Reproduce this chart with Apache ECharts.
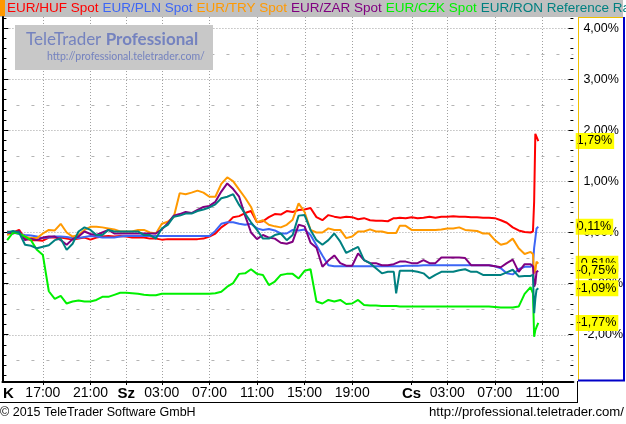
<!DOCTYPE html>
<html><head><meta charset="utf-8">
<script src="https://cdn.jsdelivr.net/npm/echarts@6/dist/echarts.min.js"></script>
<style>html,body{margin:0;padding:0;background:#fff}#c{width:626px;height:424px}</style>
</head><body><div id="c"></div>
<script>
// ---- data ----
const seriesNames = ['EUR/HUF Spot','EUR/PLN Spot','EUR/TRY Spot','EUR/ZAR Spot','EUR/CZK Spot','EUR/RON Reference Rate'];
// hours since Tuesday 00:00
const hours = [14,14.5,15,15.5,16,16.5,17,17.5,18,18.5,
 19,19.5,20,20.5,21,21.5,22,22.5,23,23.5,
 24,24.5,25,25.5,26,26.5,27,27.5,28,28.5,
 29,29.5,30,30.5,31,31.5,32,32.5,33,33.5,
 34,34.5,35,35.5,36,36.5,37,37.5,38,38.5,
 39,39.5,40,40.5,41,41.5,42,42.5,43,43.5,
 44,44.5,45,45.5,46,46.5,46.7,47,47.5,48,
 48.5,49,49.5,50,50.5,51,51.5,52,52.5,53,
 53.5,54,54.5,55,55.5,56,56.5,57,57.5,58,
 58.2,58.3,58.4,58.5,58.65];
const eurHuf = [0.02,0.0,0.05,-0.12,-0.15,-0.15,-0.16,-0.1,-0.1,-0.1,
 -0.12,-0.14,-0.12,-0.1,-0.14,-0.1,-0.08,-0.07,-0.08,-0.07,
 -0.08,-0.1,-0.1,-0.1,-0.12,-0.12,-0.14,-0.13,-0.13,-0.13,
 -0.13,-0.13,-0.13,-0.12,-0.08,-0.02,0.1,0.18,0.3,0.32,
 0.38,0.42,0.2,0.22,0.3,0.36,0.35,0.42,0.4,0.44,
 0.45,0.48,0.3,0.24,0.34,0.31,0.29,0.31,0.3,0.26,
 0.28,0.24,0.23,0.23,0.22,0.28,0.28,0.29,0.28,0.3,
 0.28,0.29,0.31,0.29,0.31,0.31,0.32,0.31,0.31,0.3,
 0.3,0.29,0.29,0.28,0.24,0.19,0.1,0.04,0.01,0.0,
 0.02,0.6,1.93,1.94,1.79];
const eurPln = [0.0,0.0,-0.03,-0.05,-0.06,-0.08,-0.11,-0.1,-0.08,-0.08,
 -0.09,-0.11,-0.11,-0.09,-0.07,-0.08,-0.1,-0.1,-0.1,-0.08,
 -0.07,-0.07,-0.07,-0.07,-0.07,-0.07,-0.07,-0.07,-0.07,-0.07,
 -0.07,-0.07,-0.07,-0.07,-0.07,0.03,0.17,0.2,0.2,0.17,
 0.15,0.17,0.08,0.05,0.07,0.04,-0.02,-0.02,0.05,0.04,
 0.06,-0.05,-0.25,-0.45,-0.64,-0.66,-0.66,-0.66,-0.66,-0.66,
 -0.66,-0.66,-0.66,-0.66,-0.66,-0.66,-0.66,-0.66,-0.65,-0.65,
 -0.65,-0.64,-0.64,-0.64,-0.64,-0.64,-0.64,-0.64,-0.64,-0.64,
 -0.64,-0.64,-0.64,-0.66,-0.7,-0.8,-0.82,-0.72,-0.67,-0.67,
 -0.62,-0.3,-0.12,0.08,0.11];
const eurTry = [-0.05,0.01,0.0,-0.08,-0.11,-0.11,-0.02,0.05,0.04,0.17,
 0.0,-0.08,-0.05,0.05,0.11,0.11,0.1,0.08,0.06,0.02,
 0.02,0.02,0.05,0.05,0.0,-0.02,0.17,0.21,0.3,0.77,
 0.75,0.78,0.82,0.78,0.7,0.7,0.95,1.08,1.0,0.84,
 0.68,0.5,0.2,0.24,0.15,0.12,0.1,0.15,0.25,0.57,
 0.4,0.05,0.0,0.0,0.08,0.05,0.05,-0.11,-0.08,0.02,
 0.02,0.06,0.02,0.02,-0.01,-0.01,-0.01,0.13,0.13,0.05,
 0.05,0.05,0.05,0.05,0.06,0.08,0.08,0.1,0.05,0.04,
 0.03,-0.02,-0.02,-0.15,-0.24,-0.21,-0.12,-0.31,-0.42,-0.38,
 -0.42,-0.8,-0.75,-0.57,-0.61];
const eurZar = [0.0,-0.02,0.03,-0.15,-0.12,-0.15,-0.1,-0.08,-0.08,-0.15,
 -0.24,-0.13,-0.08,0.02,-0.03,-0.05,0.0,0.05,-0.02,-0.02,
 -0.02,-0.02,-0.02,-0.02,-0.02,-0.02,0.06,0.18,0.33,0.36,
 0.4,0.38,0.44,0.5,0.52,0.6,0.8,0.96,0.85,0.7,
 0.33,0.0,-0.13,-0.05,-0.1,-0.12,-0.2,-0.22,-0.18,0.15,
 0.12,-0.2,-0.3,-0.67,-0.55,-0.45,-0.6,-0.65,-0.65,-0.41,
 -0.54,-0.6,-0.6,-0.64,-0.64,-0.62,-0.6,-0.57,-0.57,-0.6,
 -0.6,-0.54,-0.6,-0.6,-0.49,-0.49,-0.49,-0.49,-0.5,-0.64,
 -0.64,-0.64,-0.64,-0.66,-0.68,-0.6,-0.53,-0.77,-0.62,-0.62,
 -0.66,-1.06,-1.0,-0.77,-0.75];
const eurCzk = [-0.15,0.0,-0.02,-0.08,-0.15,-0.34,-0.44,-1.15,-1.3,-1.24,
 -1.39,-1.35,-1.33,-1.35,-1.35,-1.32,-1.26,-1.26,-1.22,-1.18,
 -1.18,-1.19,-1.2,-1.22,-1.23,-1.23,-1.2,-1.2,-1.2,-1.2,
 -1.2,-1.2,-1.2,-1.2,-1.2,-1.19,-1.16,-1.06,-0.99,-0.81,
 -0.8,-0.72,-0.81,-0.83,-1.03,-0.96,-0.83,-0.81,-0.81,-0.9,
 -0.75,-0.72,-1.35,-1.39,-1.32,-1.35,-1.32,-1.4,-1.39,-1.32,
 -1.42,-1.43,-1.43,-1.44,-1.44,-1.44,-1.44,-1.45,-1.45,-1.45,
 -1.45,-1.45,-1.45,-1.45,-1.45,-1.45,-1.45,-1.45,-1.45,-1.45,
 -1.45,-1.45,-1.45,-1.46,-1.47,-1.47,-1.47,-1.45,-1.2,-1.07,
 -1.19,-2.04,-1.91,-1.85,-1.77];
const eurRon = [0.0,0.03,0.0,-0.24,-0.26,-0.31,-0.28,-0.25,-0.15,-0.12,
 -0.34,-0.22,0.02,0.1,0.05,-0.05,-0.05,0.05,0.02,0.02,
 0.02,0.02,0.02,-0.05,-0.05,-0.12,0.08,0.15,0.31,0.33,
 0.37,0.37,0.42,0.45,0.49,0.55,0.67,0.7,0.75,0.54,
 0.37,0.2,0.05,-0.12,-0.12,-0.05,-0.02,-0.15,-0.05,0.33,
 0.34,0.05,-0.15,-0.24,-0.15,-0.02,-0.18,-0.4,-0.34,-0.28,
 -0.54,-0.6,-0.7,-0.8,-0.77,-0.77,-1.19,-0.75,-0.75,-0.75,
 -0.77,-0.8,-0.9,-0.83,-0.77,-0.77,-0.77,-0.74,-0.72,-0.77,
 -0.77,-0.83,-0.83,-0.83,-0.83,-0.78,-0.73,-0.86,-0.85,-0.85,
 -0.83,-1.58,-1.3,-1.12,-1.09];
const yMajorTicks = [-2,-1,0,1,2,3,4];
const yMinorTicks = [-2.8,-2.6,-2.4,-2.2,-1.8,-1.6,-1.4,-1.2,-0.8,-0.6,-0.4,-0.2,0.2,0.4,0.6,0.8,1.2,1.4,1.6,1.8,2.2,2.4,2.6,2.8,3.2,3.4,3.6,3.8,4.2];
const yHalfLines = [-2.5,-1.5,-0.5,0.5,1.5,2.5,3.5];
const xGridHours = [17,21,24,27,31,35,39,43,48,51,55,59];
const xLabelHours = [14.1,17,21,24,27,31,35,39,43,48,51,55,59];
const dayLabels = {'14.1':'K','24':'Sz','48':'Cs'};

// ---- chart ----
const FONT = 'Liberation Sans';
const colors = ['#ff0000','#3d66f5','#ff9900','#800080','#00f000','#008080'];
const allValues = [eurHuf, eurPln, eurTry, eurZar, eurCzk, eurRon];
const Y_MIN = -2.926, Y_MAX = 4.217;
const X_MIN = 13.6, X_MAX = 61.6;
const pct = v => (Math.round(v*100)/100).toFixed(2).replace('.', ',') + '%';

function yAx(extra){
  return Object.assign({type:'value', min:Y_MIN, max:Y_MAX,
    axisLine:{show:false}, axisTick:{show:false}, axisLabel:{show:false}, splitLine:{show:false}}, extra);
}

const chart = echarts.init(document.getElementById('c'), null, {renderer:'canvas'});
chart.setOption({
  animation:false,
  backgroundColor:'#ffffff',
  textStyle:{fontFamily:FONT},
  grid:{left:1, right:49, top:17, bottom:42, containLabel:false},
  legend:{left:2, top:0, padding:0, width:1200, itemGap:-1, itemWidth:0, itemHeight:17, icon:'none',
    selectedMode:false,
    textStyle:{fontSize:13.5, fontFamily:FONT, padding:0},
    data: seriesNames.map((n,i)=>({name:n, textStyle:{color:colors[i]}}))},
  xAxis:{type:'value', min:X_MIN, max:X_MAX, position:'bottom',
    axisLine:{show:true, onZero:false, lineStyle:{color:'#000', width:2}},
    axisTick:{show:true, customValues:xGridHours, length:3, lineStyle:{color:'#000'}},
    axisLabel:{show:true, customValues:xLabelHours, margin:4, color:'#000', fontSize:14, fontFamily:FONT,
      formatter: v => { const d = dayLabels[String(v)]; if (d) return '{d|'+d+'}';
        return String(v % 24).padStart(2,'0') + ':00'; },
      rich:{d:{fontWeight:'bold', fontSize:15, fontFamily:FONT, color:'#000'}}},
    splitLine:{show:false}},
  yAxis:[
    yAx({position:'left', axisLine:{show:true, onZero:false, lineStyle:{color:'#000', width:2}},
      axisTick:{show:true, inside:true, length:6, customValues:yMajorTicks, lineStyle:{color:'#000'}}}),
    yAx({position:'left', axisTick:{show:true, inside:true, length:4, customValues:yMinorTicks, lineStyle:{color:'#000'}}}),
    yAx({position:'right', axisTick:{show:true, inside:true, length:5, customValues:yMajorTicks, lineStyle:{color:'#000'}},
      axisLabel:{show:true, customValues:yMajorTicks, formatter:pct, margin:10, color:'#000', fontSize:12.5, fontFamily:FONT}}),
    yAx({position:'right', axisTick:{show:true, inside:true, length:3, customValues:yMinorTicks, lineStyle:{color:'#000'}}})
  ],
  series: seriesNames.map((n,i)=>({
    name:n, type:'line', z:2, xAxisIndex:0, yAxisIndex:0, showSymbol:false, symbol:'none',
    color:colors[i], lineStyle:{width:2, color:colors[i]},
    data: hours.map((h,k)=>[h, allValues[i][k]]),
    endLabel:{show:true, formatter:p=>pct(p.value[1]), distance:0, offset:[37.4,0],
      backgroundColor:'#ffff00', color:'#000', fontSize:12.5, fontFamily:FONT, padding:[2,2,1,1]}
  }))
});

// grid lines placed through the chart's own axis scales
const px = h => chart.convertToPixel({xAxisIndex:0}, h);
const py = v => chart.convertToPixel({yAxisIndex:0}, v);
const gL = px(X_MIN), gR = px(X_MAX), gT = py(Y_MAX), gB = py(Y_MIN);
const gridGraphics = [];
yMajorTicks.forEach(v => { const y = Math.round(py(v)) + 0.5;
  gridGraphics.push({type:'line', silent:true, z:0, shape:{x1:gL+1, y1:y, x2:gR, y2:y},
    style:{stroke:'#a0a0a0', lineWidth:1, lineDash:[1,2]}}); });
yHalfLines.forEach(v => { const y = Math.round(py(v)) + 0.5;
  gridGraphics.push({type:'line', silent:true, z:0, shape:{x1:gL+14, y1:y, x2:gR, y2:y},
    style:{stroke:'#b4b4b4', lineWidth:1, lineDash:[3,12]}}); });
xGridHours.forEach(h => { const x = Math.round(px(h)) + 0.5;
  gridGraphics.push({type:'line', silent:true, z:0, shape:{x1:x, y1:gT, x2:x, y2:gB},
    style:{stroke:'#a0a0a0', lineWidth:1, lineDash:[1,2]}}); });

chart.setOption({graphic: gridGraphics.concat([
    {type:'rect', silent:true, z:-1, shape:{x:0,y:0,width:623,height:17}, style:{fill:'#c0c0c0'}},
    {type:'rect', silent:true, z:5, shape:{x:0,y:0,width:5,height:16}, style:{fill:'#ff9900'}},
    {type:'rect', silent:true, z:1, shape:{x:15,y:25,width:198,height:45}, style:{fill:'#c8c8c8'}},
    {type:'text', silent:true, z:1, x:26, y:31, style:{text:'{n|TeleTrader }{b|Professional}',
      rich:{n:{fontSize:17, fontFamily:'Lato', fill:'#7482bf'}, b:{fontSize:17, fontFamily:'Lato', fontWeight:'bold', fill:'#7482bf'}}}},
    {type:'text', silent:true, z:1, x:47, y:51, style:{text:'http://professional.teletrader.com/', fontSize:10.5, fontFamily:'Lato', fill:'#7482bf'}},
    {type:'line', silent:true, z:5, shape:{x1:578.5,y1:17,x2:578.5,y2:381}, style:{stroke:'#f0c000', lineWidth:1}},
    {type:'line', silent:true, z:5, shape:{x1:578,y1:17.5,x2:623,y2:17.5}, style:{stroke:'#f0c000', lineWidth:1}},
    {type:'line', silent:true, z:5, shape:{x1:624,y1:17,x2:624,y2:381}, style:{stroke:'#0000c8', lineWidth:2}},
    {type:'line', silent:true, z:5, shape:{x1:578,y1:380.5,x2:625,y2:380.5}, style:{stroke:'#0000c8', lineWidth:2}},
    {type:'line', silent:true, z:5, shape:{x1:0,y1:402.5,x2:578,y2:402.5}, style:{stroke:'#000', lineWidth:1}},
    {type:'line', silent:true, z:5, shape:{x1:577.5,y1:381,x2:577.5,y2:403}, style:{stroke:'#000', lineWidth:1}},
    {type:'text', silent:true, x:0, y:406, style:{text:'© 2015 TeleTrader Software GmbH', fontSize:12.5, fontFamily:FONT, fill:'#000'}},
    {type:'text', silent:true, x:624, y:406, style:{text:'http://professional.teletrader.com/', fontSize:13.2, fontFamily:FONT, fill:'#000', align:'right'}}
  ])});
</script></body></html>
